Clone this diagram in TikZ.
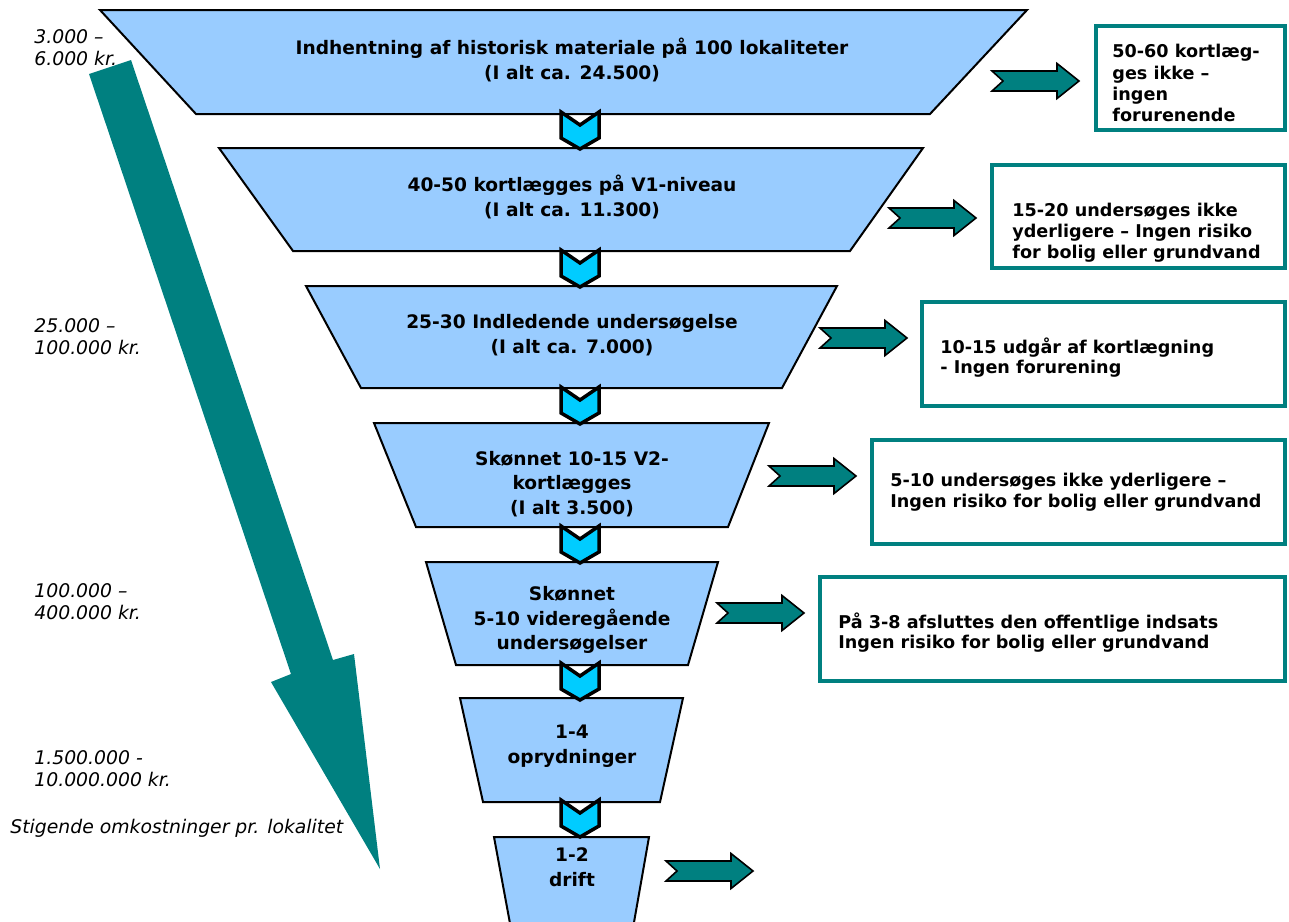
\documentclass[tikz,border=0pt]{standalone}
\usepackage{fontspec}
\setmainfont{DejaVu Sans}
\definecolor{lysblaa}{HTML}{99CCFF}
\definecolor{turkis}{HTML}{00CCFF}
\definecolor{petrol}{HTML}{008080}
\tikzset{
  trin/.style={draw=black, line width=1pt, fill=lysblaa},
  trintekst/.style={font=\bfseries\fontsize{9.3}{12.3}\selectfont, align=center, inner sep=0pt},
  boks/.style={draw=petrol, line width=1.75pt, fill=white},
  bokstekst/.style={font=\bfseries\fontsize{8.8}{10.4}\selectfont, align=left, anchor=north west, inner sep=0pt},
  pris/.style={font=\itshape\fontsize{9.4}{11}\selectfont, align=left, anchor=north west, inner sep=0pt},
  pil/.pic={\draw[line width=0.8pt, fill=petrol, line join=miter]
    (0,-10) -- (65,-10) -- (65,-17.5) -- (87,0) -- (65,17.5) -- (65,10) -- (0,10) -- (11,0) -- cycle;},
  vinkel/.pic={\draw[line width=1.75pt, fill=turkis, line join=miter]
    (-19,0) -- (0,13) -- (19,0) -- (19,26) -- (0,37) -- (-19,26) -- cycle;}
}
\begin{document}
\begin{tikzpicture}[x=0.5pt,y=-0.5pt]
\useasboundingbox (0,0) rectangle (1289,921);
% stigende omkostninger
\fill[petrol] (89,74) -- (291,674) -- (271,682) -- (380,869) -- (354,654) -- (333,660) -- (131,60) -- cycle;
\node[pris] (p1) at (34,29) {3.000 –\\6.000 kr.};
\node[pris] (p2) at (34,318) {25.000 –\\100.000 kr.};
\node[pris] (p3) at (34,583) {100.000 –\\400.000 kr.};
\node[pris] (p4) at (34,750) {1.500.000 -\\10.000.000 kr.};
\node[pris] (p5) at (10,819) {Stigende omkostninger pr. lokalitet};
% tragten
\draw[trin] (100,10) -- (1027,10) -- (930,114) -- (196,114) -- cycle;
\node[trintekst] (t1) at (572,60) {Indhentning af historisk materiale på 100 lokaliteter\\(I alt ca. 24.500)};
\draw[trin] (219,148) -- (923,148) -- (850,251) -- (293,251) -- cycle;
\node[trintekst] (t2) at (572,197) {40-50 kortlægges på V1-niveau\\(I alt ca. 11.300)};
\draw[trin] (306,286) -- (837,286) -- (782,388) -- (361,388) -- cycle;
\node[trintekst] (t3) at (572,335) {25-30 Indledende undersøgelse\\(I alt ca. 7.000)};
\draw[trin] (374,423) -- (769,423) -- (728,527) -- (416,527) -- cycle;
\node[trintekst] (t4) at (572,484) {Skønnet 10-15 V2-\\kortlægges\\(I alt 3.500)};
\draw[trin] (426,562) -- (718,562) -- (688,665) -- (456,665) -- cycle;
\node[trintekst] (t5) at (572,620) {Skønnet\\5-10 videregående\\undersøgelser};
\draw[trin] (460,698) -- (683,698) -- (660,802) -- (483,802) -- cycle;
\node[trintekst] (t6) at (572,746) {1-4\\oprydninger};
\begin{scope}
\clip (0,0) rectangle (1289,921);
\draw[trin] (494,837) -- (649,837) -- (630,945) -- (514,945) -- cycle;
\end{scope}
\node[trintekst] (t7) at (572,867) {1-2\\drift};
% pile mellem trinene
\pic at (580,112) {vinkel};
\pic at (580,250) {vinkel};
\pic at (580,387) {vinkel};
\pic at (580,526) {vinkel};
\pic at (580,663) {vinkel};
\pic at (580,800) {vinkel};
% pile ud til siden
\pic at (992,81) {pil};
\pic at (889,218) {pil};
\pic at (820,338) {pil};
\pic at (769,476) {pil};
\pic at (717,613) {pil};
\pic at (666,871) {pil};
% bokse
\draw[boks] (1096,26) rectangle (1285,130);
\node[bokstekst, font=\bfseries\fontsize{8.8}{10.7}\selectfont] (b1) at (1112,44) {50-60 kortlæg-\\ges ikke –\\ingen\\forurenende};
\draw[boks] (992,165) rectangle (1285,268);
\node[bokstekst] (b2) at (1012,203) {15-20 undersøges ikke\\yderligere – Ingen risiko\\for bolig eller grundvand};
\draw[boks] (922,302) rectangle (1285,406);
\node[bokstekst] (b3) at (940,337) {10-15 udgår af kortlægning\\- Ingen forurening};
\draw[boks] (872,440) rectangle (1285,544);
\node[bokstekst] (b4) at (890,473) {5-10 undersøges ikke yderligere –\\Ingen risiko for bolig eller grundvand};
\draw[boks] (820,577) rectangle (1285,681);
\node[bokstekst] (b5) at (838,612) {På 3-8 afsluttes den offentlige indsats\\Ingen risiko for bolig eller grundvand};
\end{tikzpicture}
\end{document}
